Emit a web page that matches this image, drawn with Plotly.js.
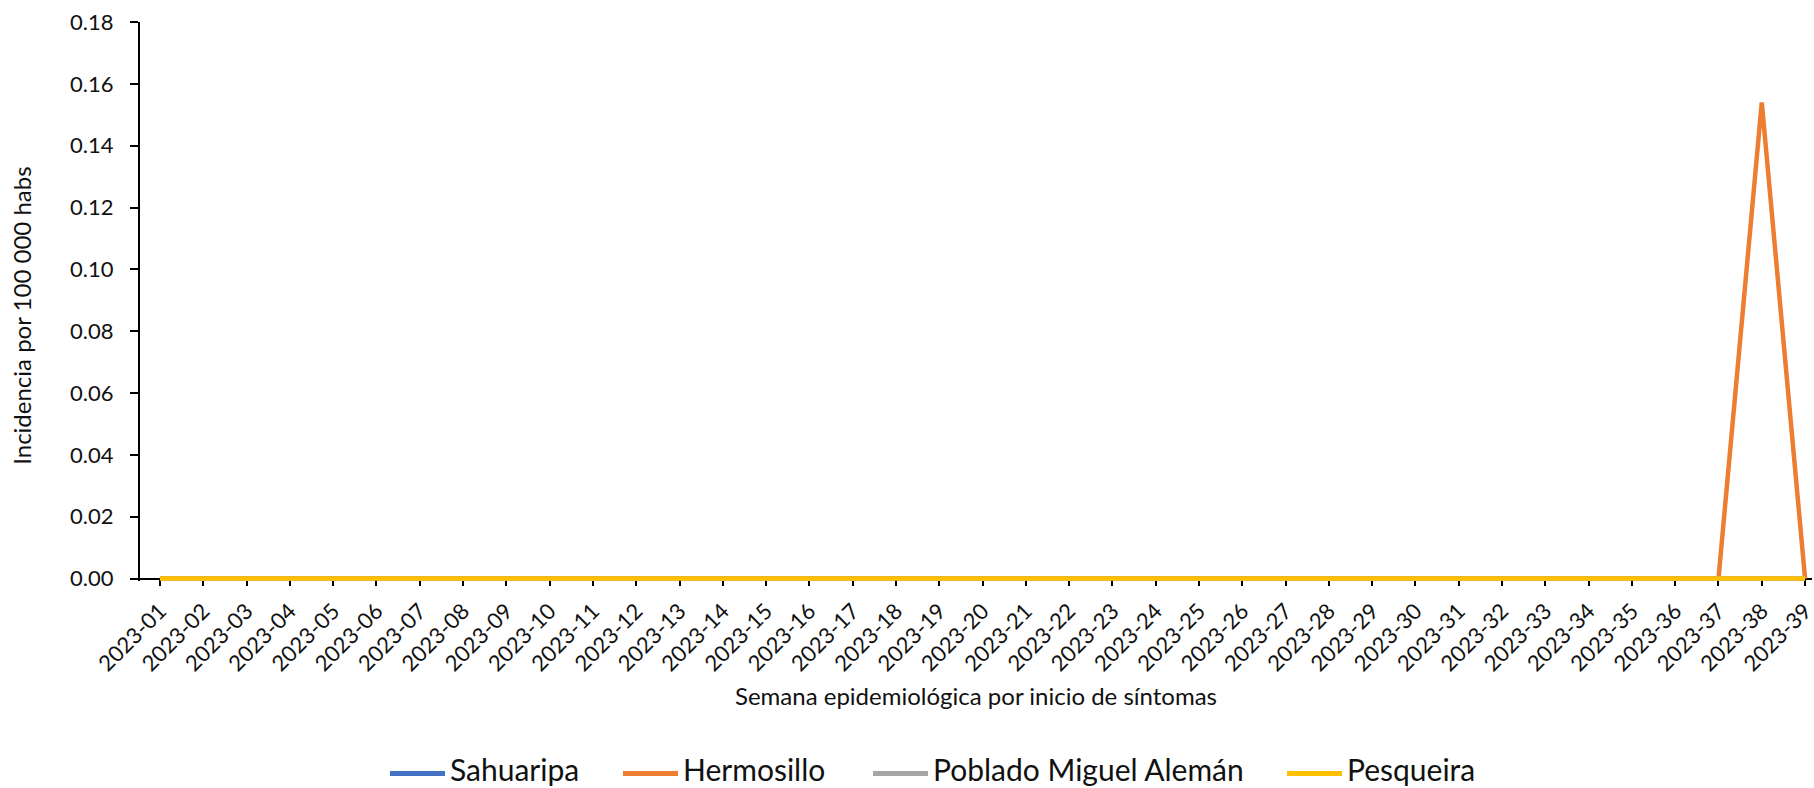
<!DOCTYPE html>
<html>
<head>
<meta charset="utf-8">
<script src="https://cdn.plot.ly/plotly-3.0.1.min.js"></script>
<style>
  html, body { margin: 0; padding: 0; background: #ffffff; }
  #chart { width: 1814px; height: 788px; }
</style>
</head>
<body>
<div id="chart"></div>
<script>
const weeks = ['2023-01','2023-02','2023-03','2023-04','2023-05','2023-06','2023-07','2023-08','2023-09','2023-10',
               '2023-11','2023-12','2023-13','2023-14','2023-15','2023-16','2023-17','2023-18','2023-19','2023-20',
               '2023-21','2023-22','2023-23','2023-24','2023-25','2023-26','2023-27','2023-28','2023-29','2023-30',
               '2023-31','2023-32','2023-33','2023-34','2023-35','2023-36','2023-37','2023-38','2023-39'];

const sahuaripa = [0,0,0,0,0,0,0,0,0,0, 0,0,0,0,0,0,0,0,0,0, 0,0,0,0,0,0,0,0,0,0, 0,0,0,0,0,0,0,0,0];
const hermosillo = [0,0,0,0,0,0,0,0,0,0, 0,0,0,0,0,0,0,0,0,0, 0,0,0,0,0,0,0,0,0,0, 0,0,0,0,0,0,0,0.154,0];
const pobladoMiguelAleman = [0,0,0,0,0,0,0,0,0,0, 0,0,0,0,0,0,0,0,0,0, 0,0,0,0,0,0,0,0,0,0, 0,0,0,0,0,0,0,0,0];
const pesqueira = [0,0,0,0,0,0,0,0,0,0, 0,0,0,0,0,0,0,0,0,0, 0,0,0,0,0,0,0,0,0,0, 0,0,0,0,0,0,0,0,0];

const seriesNames = ['Sahuaripa', 'Hermosillo', 'Poblado Miguel Alemán', 'Pesqueira'];
const seriesValues = [sahuaripa, hermosillo, pobladoMiguelAleman, pesqueira];
const seriesColors = ['#4472C4', '#ED7D31', '#A5A5A5', '#FFC000'];

const yTicks = [0, 0.02, 0.04, 0.06, 0.08, 0.10, 0.12, 0.14, 0.16, 0.18];

const FONT = 'Lato, "Liberation Sans", sans-serif';
const INK = '#111111';

// chart geometry (pixels)
const W = 1814, H = 788;
const plotLeft = 140, plotRight = 1812, yTopPx = 22, yZeroPx = 579;
const yMax = 0.18;
const pxPerUnit = (yZeroPx - yTopPx) / yMax;
const yPad = 2.4 / pxPerUnit;              // small room below zero so the zero lines are not clipped
const plotBottom = yZeroPx + yPad * pxPerUnit;
const plotH = plotBottom - yTopPx;
const plotW = plotRight - plotLeft;
const px2paperX = (px) => (px - plotLeft) / plotW;
const px2paperY = (py) => (plotBottom - py) / plotH;

// legend layout (pixels): start of each key line
const legendKeyStart = [390, 623, 873, 1287];
const legendKeyLen = 55;
const legendY = 774;

const traces = seriesNames.map((name, i) => ({
  type: 'scatter',
  mode: 'lines',
  name: name,
  x: weeks,
  y: seriesValues[i],
  line: { color: seriesColors[i], width: 4.5 },
  showlegend: false,
  hoverinfo: 'x+y+name'
}));

const legendShapes = seriesNames.map((name, i) => ({
  type: 'line', xref: 'paper', yref: 'paper',
  x0: px2paperX(legendKeyStart[i]), x1: px2paperX(legendKeyStart[i] + legendKeyLen),
  y0: px2paperY(legendY), y1: px2paperY(legendY),
  line: { color: seriesColors[i], width: 5 }
}));

const legendLabels = seriesNames.map((name, i) => ({
  text: name, showarrow: false, xref: 'paper', yref: 'paper',
  x: px2paperX(legendKeyStart[i] + legendKeyLen + 3), xanchor: 'left',
  y: px2paperY(legendY - 4), yanchor: 'middle',
  font: { family: FONT, size: 30, color: INK }
}));

const yTitle = {
  text: 'Incidencia por 100 000 habs', showarrow: false, textangle: -90,
  xref: 'paper', yref: 'paper',
  x: px2paperX(22), xanchor: 'center',
  y: px2paperY(316), yanchor: 'middle',
  font: { family: FONT, size: 24, color: INK }
};

const layout = {
  width: W,
  height: H,
  paper_bgcolor: '#ffffff',
  plot_bgcolor: '#ffffff',
  margin: { l: plotLeft, r: W - plotRight, t: yTopPx, b: H - plotBottom, autoexpand: false },
  font: { family: FONT, color: INK },
  showlegend: false,
  shapes: legendShapes,
  annotations: legendLabels.concat([yTitle]),
  xaxis: {
    type: 'category',
    range: [-0.462, 38.16],
    tickmode: 'array',
    tickvals: weeks,
    ticktext: weeks,
    tickangle: -45,
    tickfont: { family: FONT, size: 22, color: INK },
    ticks: 'outside',
    ticklen: 6,
    tickwidth: 2,
    tickcolor: '#000000',
    ticklabelstandoff: 4,
    showline: true,
    linecolor: '#000000',
    linewidth: 2,
    showgrid: false,
    zeroline: false,
    layer: 'below traces',
    anchor: 'free',
    position: yPad / (yMax + yPad),
    automargin: false,
    title: {
      text: 'Semana epidemiológica por inicio de síntomas',
      font: { family: FONT, size: 24, color: INK },
      standoff: 12
    }
  },
  yaxis: {
    range: [-yPad, yMax],
    tickmode: 'array',
    tickvals: yTicks,
    tickformat: '.2f',
    tickfont: { family: FONT, size: 22, color: INK },
    ticks: 'outside',
    ticklen: 8,
    tickwidth: 2,
    tickcolor: '#000000',
    ticklabelstandoff: 12,
    showline: true,
    linecolor: '#000000',
    linewidth: 2,
    showgrid: false,
    zeroline: false,
    layer: 'below traces',
    automargin: false
  }
};

Plotly.newPlot('chart', traces, layout, { displayModeBar: false, responsive: false });
</script>
</body>
</html>
